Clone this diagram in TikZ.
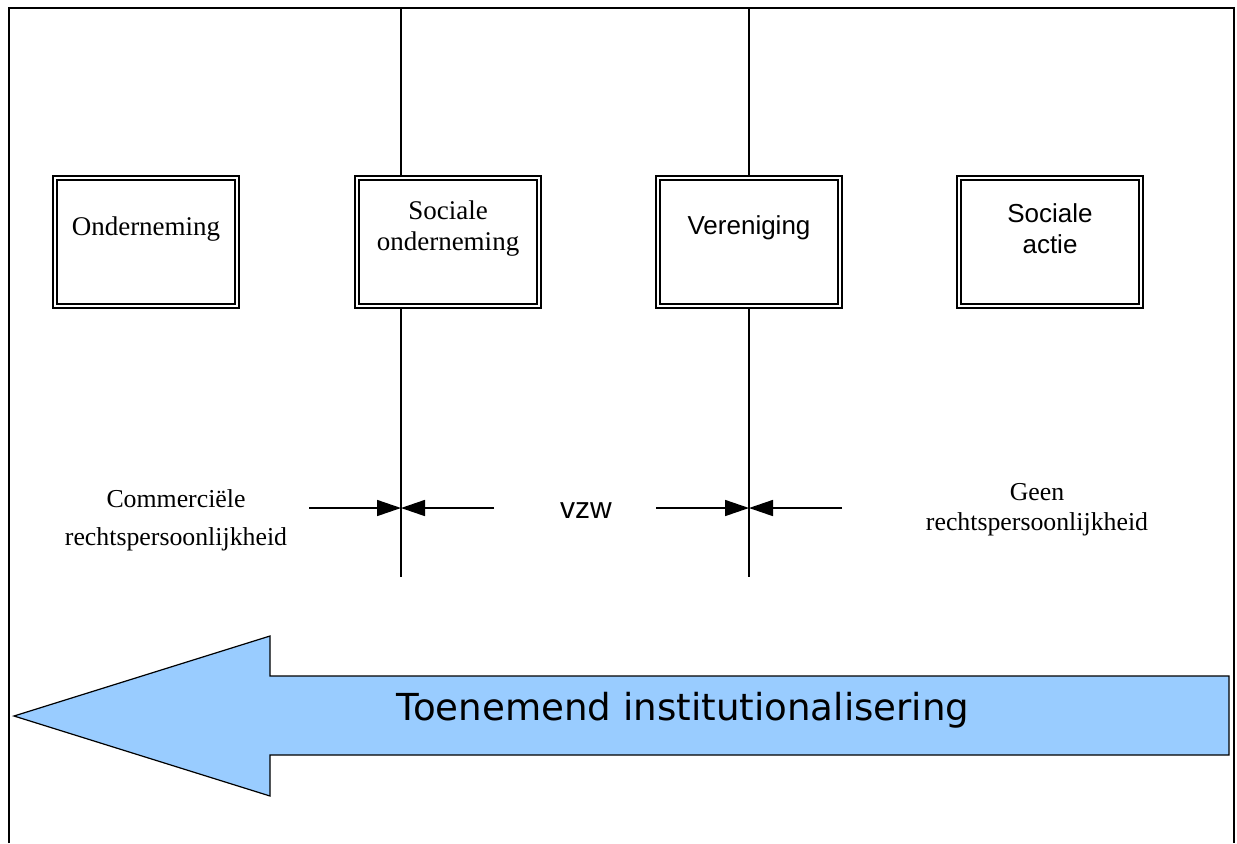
\documentclass[tikz,border=0pt]{standalone}
\usepackage{fontspec}
\setmainfont{Liberation Serif}
\setsansfont{Liberation Sans}
\newfontfamily\bigfont{DejaVu Sans}
\usetikzlibrary{arrows.meta}
\definecolor{arrowblue}{HTML}{99CCFF}
\tikzset{
  orgbox/.style={draw, double, line width=1pt, double distance=1pt,
    minimum width=91pt, minimum height=64pt, inner sep=0pt},
  serifname/.style={align=center, font=\fontsize{13.5}{15.5}\selectfont},
  sansname/.style={align=center, font=\sffamily\fontsize{13}{15.5}\selectfont},
  divider/.style={line width=1pt},
  pinch/.style={line width=0.8pt, -{Triangle[length=12pt,width=8pt]}},
  formlabel/.style={align=center, font=\fontsize{12.9}{15}\selectfont}
}

\begin{document}
\begin{tikzpicture}[x=0.5pt,y=-0.5pt]
		%%%%% FRAME %%%%%
		\useasboundingbox (0,0) rectangle (1237,843);
		\draw[line width=1pt] (9,843) -- (9,8) -- (1234,8) -- (1234,843);
		
		%%%%% BOXES %%%%%
		\node[orgbox] (onder) at (146,242) {};
		\node[orgbox] (socond) at (448,242) {};
		\node[orgbox] (vereen) at (749,242) {};
		\node[orgbox] (socact) at (1050,242) {};
		
		\node[serifname] (onderTxt) at (146,229) {Onderneming};
		\node[serifname] (socondTxt) at (448,229) {Sociale\\onderneming};
		\node[sansname] (vereenTxt) at (749,228) {Vereniging};
		\node[sansname] (socactTxt) at (1050,229) {Sociale\\actie};
		
		%%%%% DIVIDERS %%%%%
		\coordinate (topA) at (401,8);
		\coordinate (botA) at (401,577);
		\coordinate (topB) at (749,8);
		\coordinate (botB) at (749,577);
		\coordinate (midA) at (401,508);
		\coordinate (midB) at (749,508);
		\draw[divider] (topA) -- (topA |- socond.north);
		\draw[divider] (topA |- socond.south) -- (botA);
		\draw[divider] (topB) -- (vereen.north);
		\draw[divider] (vereen.south) -- (botB);
		
		%%%%% PINCH ARROWS %%%%%
		\coordinate (aL) at (309,508);
		\coordinate (aR) at (494,508);
		\coordinate (bL) at (656,508);
		\coordinate (bR) at (842,508);
		\draw[pinch] (aL) -- (midA);
		\draw[pinch] (aR) -- (midA);
		\draw[pinch] (bL) -- (midB);
		\draw[pinch] (bR) -- (midB);
		
		%%%%% FORMS %%%%%
		\node[formlabel, font=\fontsize{12.9}{19}\selectfont] (commLbl) at (176,520) {Commerciële\\rechtspersoonlijkheid};
		\node[font=\sffamily\fontsize{15}{17}\selectfont] (vzwLbl) at (586,511) {vzw};
		\node[formlabel] (geenLbl) at (1037,510) {Geen\\rechtspersoonlijkheid};
		
		%%%%% BIG ARROW %%%%%
		\draw[fill=arrowblue, line width=0.6pt] (14,716) -- (270,636) -- (270,676) -- (1229,676)
			-- (1229,755) -- (270,755) -- (270,796) -- cycle;
		\node[font=\bigfont\fontsize{18.6}{20}\selectfont] (trendTxt) at (683,710) {Toenemend institutionalisering};
	\end{tikzpicture}
\end{document}
